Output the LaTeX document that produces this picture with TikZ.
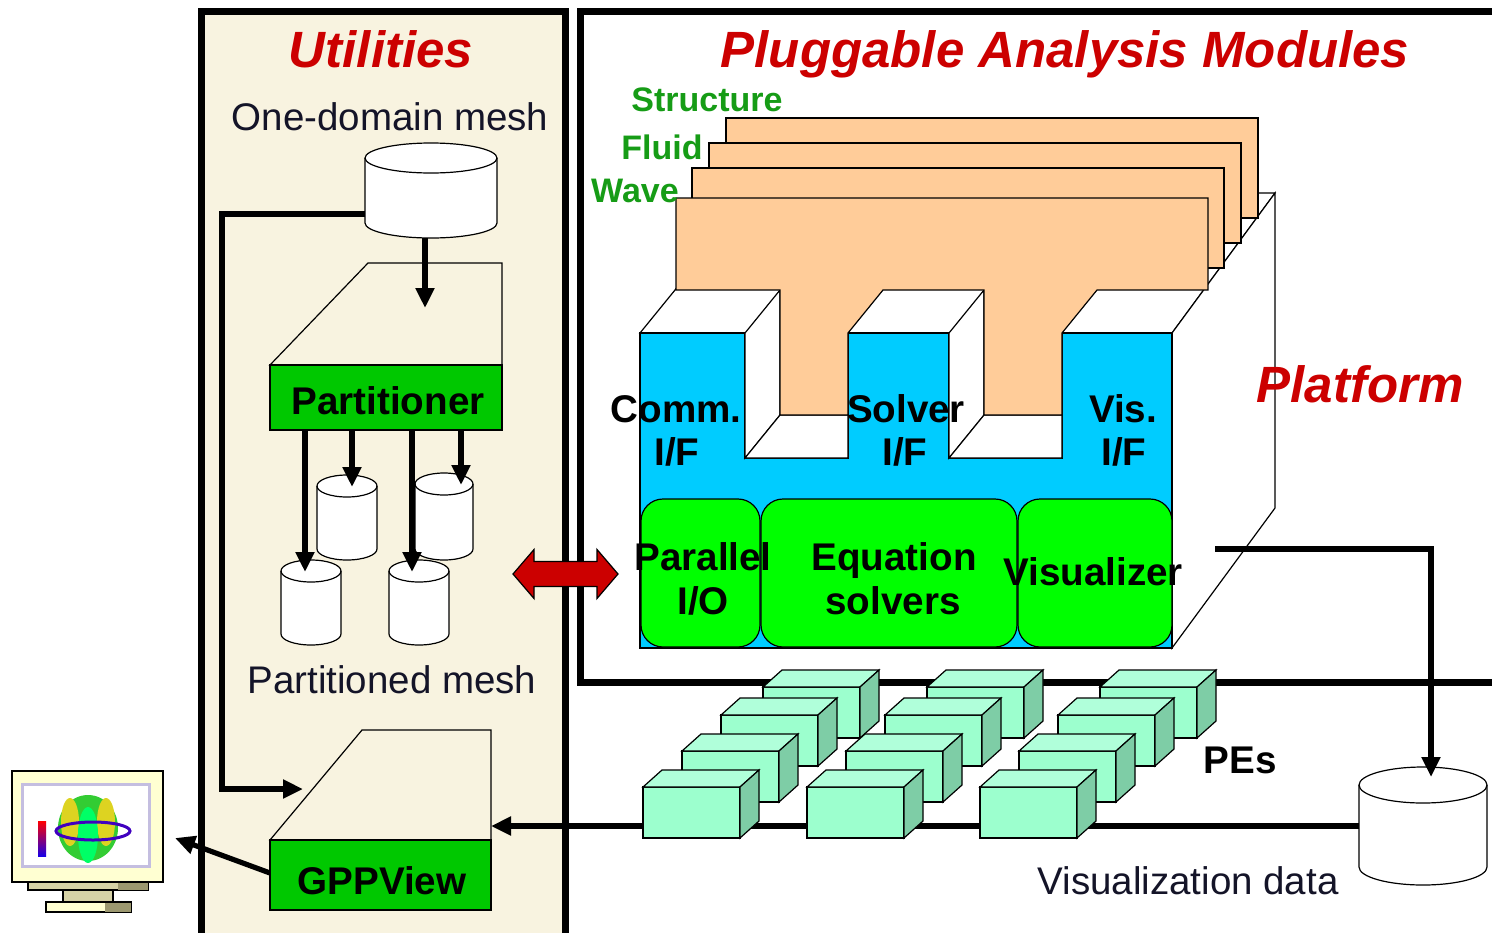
\documentclass[tikz,border=0pt]{standalone}
\usepackage{fontspec}
\setmainfont{Liberation Sans}
\usetikzlibrary{arrows.meta}
\definecolor{cream}{HTML}{F8F3E0}
\definecolor{titlered}{HTML}{CC0000}
\definecolor{cardgreen}{HTML}{169C16}
\definecolor{partgreen}{HTML}{00C800}
\definecolor{brightgreen}{HTML}{00FF00}
\definecolor{platblue}{HTML}{00CCFF}
\definecolor{modorange}{HTML}{FFCC99}
\definecolor{pefront}{HTML}{9CFFCE}
\definecolor{petop}{HTML}{B0FFDA}
\definecolor{peside}{HTML}{7ECDA6}
\definecolor{navy}{HTML}{141428}
\definecolor{moncream}{HTML}{FFFFD2}
\definecolor{montan}{HTML}{D6D2A6}
\definecolor{monshade}{HTML}{9C9870}
\definecolor{lavender}{HTML}{C4BEE0}
\begin{document}
\begin{tikzpicture}[x=0.5pt, y=-0.5pt,
    outline/.style={draw=black, line width=0.6pt},
    boxframe/.style={line width=3.5pt},
    wire/.style={line width=2.6pt},
    conn/.style={wire, -{Triangle[length=10pt,width=9pt]}},
    title/.style={text=titlered, anchor=base, font=\fontsize{25.5}{28}\selectfont\bfseries\itshape},
    iflabel/.style={anchor=base, font=\fontsize{19.3}{21}\selectfont\bfseries},
    meshtext/.style={text=navy, anchor=base, font=\fontsize{19.25}{21}\selectfont},
    cardlab/.style={text=cardgreen, anchor=base, font=\fontsize{17}{19}\selectfont\bfseries},
    unitbox/.style={outline, rounded corners=11pt, fill=brightgreen},
    toolbox/.style={outline, fill=partgreen, inner sep=0pt}]
  \useasboundingbox (0,0) rectangle (1492,932);
  \fill[white] (0,0) rectangle (1492,932);
  % utilities and module frames
  \draw[boxframe, fill=cream] (201.5,11.5) rectangle (565.5,950);
  \draw[boxframe] (1500,11.5) -- (580.5,11.5) -- (580.5,682.5) -- (1500,682.5);
  % partitioner and gppview
  \draw[outline, fill=cream] (270,365) -- (368,263) -- (502,263) -- (502,365) -- cycle;
  \node[toolbox, minimum width=116pt, minimum height=32.5pt] (part) at (386,397.5) {};
  \draw[outline, fill=cream] (270,840) -- (362,730) -- (491,730) -- (491,840) -- cycle;
  \node[toolbox, minimum width=110.5pt, minimum height=35pt] (gpp) at (380.5,875) {};
  % mesh files
  \foreach \cx/\ty/\by/\ax/\ay in {431/158/223/66/15, 347/486/549/30/11, 444/484/549/29/11,
      311/571/634/30/11, 419/571/634/30/11, 1423/785/867/64/18} {
    \draw[outline, fill=white] (\cx-\ax,\ty) -- (\cx-\ax,\by)
      arc[start angle=180, end angle=0, x radius=\ax, y radius=\ay] -- (\cx+\ax,\ty)
      arc[start angle=0, end angle=-180, x radius=\ax, y radius=\ay] -- cycle;
    \draw[outline] (\cx-\ax,\ty) arc[start angle=180, end angle=0, x radius=\ax, y radius=\ay];
  }
  \coordinate (meshout) at (425,238);
  \coordinate (partin) at (425,308);
  \coordinate (meshside) at (365,214);
  \coordinate (gppin) at (303,789);
  \coordinate (cyl1in) at (352,487);
  \coordinate (cyl2in) at (461,485);
  \coordinate (cyl3in) at (305,572);
  \coordinate (cyl4in) at (412,572);
  \coordinate (gppside) at (491,826);
  \coordinate (visdata) at (1359,826);
  \coordinate (platout) at (1215,549);
  \coordinate (visdatain) at (1431,777);
  \coordinate (gppout) at (270,873);
  \coordinate (monin) at (175,838);
  \draw[conn] (visdata) -- (gppside);
  % platform
  \draw[outline, fill=white] (640,333) -- (1172,333) -- (1275,193) -- (750,193) -- (675,290) -- cycle;
  \draw[outline, fill=white] (1172,333) -- (1275,193) -- (1275,508) -- (1172,648) -- cycle;
  \draw[outline, fill=platblue] (640,333) -- (745,333) -- (745,458) -- (848,458) -- (848,333)
    -- (949,333) -- (949,458) -- (1062,458) -- (1062,333) -- (1172,333) -- (1172,648) -- (640,648) -- cycle;
  \draw[outline, fill=white] (745,333) -- (780,290) -- (780,415) -- (745,458) -- cycle;
  \draw[outline, fill=white] (745,458) -- (780,415) -- (848,415) -- (848,458) -- cycle;
  \draw[outline, fill=white] (949,333) -- (984,290) -- (984,415) -- (949,458) -- cycle;
  \draw[outline, fill=white] (949,458) -- (984,415) -- (1062,415) -- (1062,458) -- cycle;
  % analysis modules
  \draw[outline, fill=modorange] (726,118) rectangle (1258,218);
  \draw[outline, fill=modorange] (709,143) rectangle (1241,243);
  \draw[outline, fill=modorange] (692,168) rectangle (1224,268);
  \draw[outline, fill=modorange] (676,198) -- (1208,198) -- (1208,290) -- (1097,290) -- (1062,333)
    -- (1062,415) -- (984,415) -- (984,290) -- (883,290) -- (848,333) -- (848,415) -- (780,415)
    -- (780,290) -- (676,290) -- cycle;
  \draw[unitbox] (641,499) rectangle (760,647);
  \draw[unitbox] (761,499) rectangle (1017,647);
  \draw[unitbox] (1018,499) rectangle (1172,647);
  % PEs
  \foreach \px/\py in {763/687, 721/715, 682/751, 643/787}
    \foreach \gx in {0,164,337} {
      \draw[outline, fill=pefront] (\px+\gx,\py) rectangle ++(97,51);
      \draw[outline, fill=petop] (\px+\gx,\py) -- ++(19,-17) -- ++(97,0) -- ++(-19,17) -- cycle;
      \draw[outline, fill=peside] (\px+\gx+97,\py) -- ++(19,-17) -- ++(0,51) -- ++(-19,17) -- cycle;
    }
  % connectors
  \draw[conn] (meshout) -- (partin);
  \draw[conn] (meshside) -- ++(-143,0) |- (gppin);
  \draw[conn] (part.south -| cyl1in) -- (cyl1in);
  \draw[conn] (part.south -| cyl2in) -- (cyl2in);
  \draw[conn] (part.south -| cyl3in) -- (cyl3in);
  \draw[conn] (part.south -| cyl4in) -- (cyl4in);
  \draw[conn] (platout) -| (visdatain);
  \draw[conn] (gppout) -- (monin);
  \draw[outline, fill=titlered] (513,574) -- (534,549.5) -- (534,561.5) -- (597,561.5) -- (597,549.5)
    -- (618,574) -- (597,598.5) -- (597,586.5) -- (534,586.5) -- (534,598.5) -- cycle;
  % monitor
  \draw[outline, fill=moncream] (12,771) rectangle (163,882);
  \draw[lavender, line width=1.5pt, fill=white] (22,784) rectangle (149,866);
  \shade[top color=red, middle color=green, bottom color=blue!80!violet] (38,821) rectangle (46,856);
  \fill[green!75!black!80] (88,828) ellipse [x radius=30, y radius=33];
  \fill[yellow!85!black] (70,822) ellipse [x radius=9, y radius=24];
  \fill[yellow!85!black] (106,822) ellipse [x radius=9, y radius=24];
  \fill[green!60!cyan] (88,835) ellipse [x radius=10, y radius=28];
  \draw[blue!50!violet, line width=1.5pt] (93,831) ellipse [x radius=37, y radius=9];
  \draw[outline, fill=montan] (28,882) rectangle (148,890);
  \fill[monshade] (118,883) rectangle (147.5,889.5);
  \draw[outline, fill=montan] (63,890) rectangle (113,902);
  \draw[outline, fill=moncream] (46,902) rectangle (131,912);
  \fill[monshade] (105,903) rectangle (130.5,911.5);
  % texts
  \node[title] (util) at (381,67) {Utilities};
  \node[title] (pam) at (1065,67) {Pluggable Analysis Modules};
  \node[title] (plat) at (1360,402) {Platform};
  \node[meshtext] (onemesh) at (390,130) {One-domain mesh};
  \node[meshtext] (partmesh) at (392,693) {Partitioned mesh};
  \node[meshtext] (vislabel) at (1188,894) {Visualization data};
  \node[cardlab] (struct) at (707,111) {Structure};
  \node[cardlab] (fluid) at (662,159) {Fluid};
  \node[cardlab] (wave) at (635,202) {Wave};
  \node[iflabel] (partlabel) at (388,414) {Partitioner};
  \node[iflabel] (gpplabel) at (382,894) {GPPView};
  \node[iflabel] (comm) at (676,422) {Comm.};
  \node[iflabel] (commif) at (677,465) {I/F};
  \node[iflabel] (solv) at (906,422) {Solver};
  \node[iflabel] (solvif) at (905,465) {I/F};
  \node[iflabel] (vis) at (1123,422) {Vis.};
  \node[iflabel] (visif) at (1124,465) {I/F};
  \node[iflabel] (pario) at (703,570) {Parallel};
  \node[iflabel] (pario2) at (703,614) {I/O};
  \node[iflabel] (eqs) at (894,570) {Equation};
  \node[iflabel] (eqs2) at (893,614) {solvers};
  \node[iflabel] (visu) at (1093,585) {Visualizer};
  \node[iflabel] (pes) at (1240,773) {PEs};
\end{tikzpicture}
\end{document}
